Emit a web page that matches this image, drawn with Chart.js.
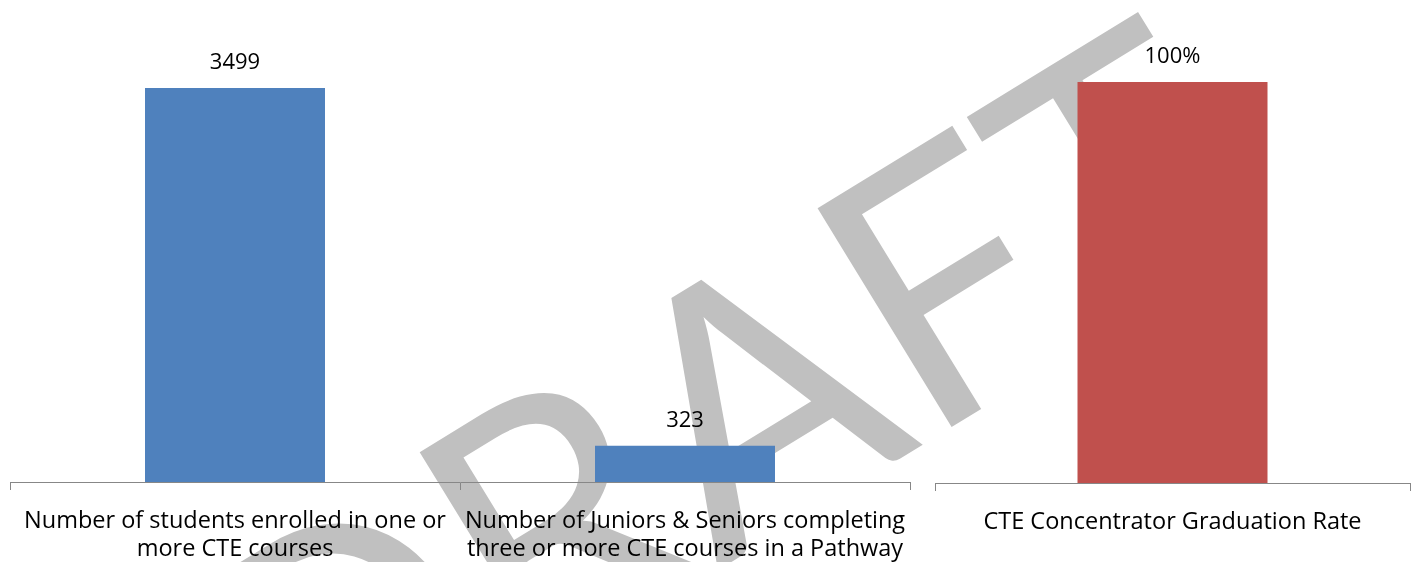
<!DOCTYPE html>
<html>
<head>
<meta charset="utf-8">
<script src="https://cdn.jsdelivr.net/npm/chart.js@4/dist/chart.umd.min.js"></script>
<style>
  html, body { margin: 0; padding: 0; background: #ffffff; }
  #page { position: relative; width: 1420px; height: 562px; overflow: hidden; }
  #wm {
    position: absolute; left: 128px; top: 560px;
    font-family: Lato, "Open Sans", sans-serif; font-size: 358px; line-height: 1;
    color: #c0c0c0; white-space: nowrap;
    transform-origin: 0 0; transform: rotate(-31.5deg);
    z-index: 0;
  }
  .box { position: absolute; top: 0; height: 562px; z-index: 1; }
</style>
</head>
<body>
<div id="page">
  <div id="wm">DRAFT</div>
  <div class="box" style="left:0; width:920px;"><canvas id="countChart"></canvas></div>
  <div class="box" style="left:925px; width:495px;"><canvas id="rateChart"></canvas></div>
</div>
<script>
// Student counts
const countCategories = [
  ["Number of students enrolled in one or", "more CTE courses"],
  ["Number of Juniors & Seniors completing", "three or more CTE courses in a Pathway"]
];
const countValues = [3499, 323];
const countAxisMax = 4000;

// Graduation rate (percent)
const rateCategories = ["CTE Concentrator Graduation Rate"];
const rateValues = [100];
const rateAxisMax = 120;

const FONT = "'Open Sans', Lato, sans-serif";
const AXIS_GREY = "#878787";

const valueLabels = {
  id: "valueLabels",
  afterDatasetsDraw(chart, args, opts) {
    const ctx = chart.ctx;
    const ds = chart.data.datasets[0];
    const meta = chart.getDatasetMeta(0);
    ctx.save();
    ctx.font = "22px " + FONT;
    ctx.fillStyle = "#000000";
    ctx.textAlign = "center";
    ctx.textBaseline = "middle";
    meta.data.forEach((bar, i) => {
      ctx.fillText(opts.format(ds.data[i]), bar.x, bar.y - 25);
    });
    ctx.restore();
  }
};

function makeChart(id, labels, values, color, yMax, padTop, axisHeight, fmt) {
  return new Chart(document.getElementById(id), {
    type: "bar",
    data: {
      labels: labels,
      datasets: [{
        data: values,
        backgroundColor: color,
        borderWidth: 0,
        categoryPercentage: 1,
        barPercentage: 0.4
      }]
    },
    options: {
      responsive: true,
      maintainAspectRatio: false,
      animation: false,
      layout: { padding: { top: padTop, left: 10, right: 10, bottom: 0 } },
      plugins: {
        legend: { display: false },
        tooltip: { enabled: false },
        valueLabels: { format: fmt }
      },
      scales: {
        x: {
          offset: true,
          grid: {
            display: true, offset: true, drawOnChartArea: false,
            drawTicks: true, tickLength: 8, color: AXIS_GREY, lineWidth: 1
          },
          border: { display: true, color: AXIS_GREY, width: 1 },
          ticks: {
            font: { family: FONT, size: 23.5, lineHeight: 1.2 },
            color: "#000000", padding: 17, maxRotation: 0, autoSkip: false
          },
          afterFit(scale) {
            // keep the axis spanning the full padded width
            scale.height = axisHeight;
            scale.paddingLeft = 0;
            scale.paddingRight = 0;
          }
        },
        y: { display: false, min: 0, max: yMax }
      }
    },
    plugins: [valueLabels]
  });
}

makeChart("countChart", countCategories, countValues, "#4f81bd", countAxisMax, 31.6, 80, v => String(v));
makeChart("rateChart", rateCategories, rateValues, "#c0504d", rateAxisMax, 1.8, 79, v => v + "%");
</script>
</body>
</html>
